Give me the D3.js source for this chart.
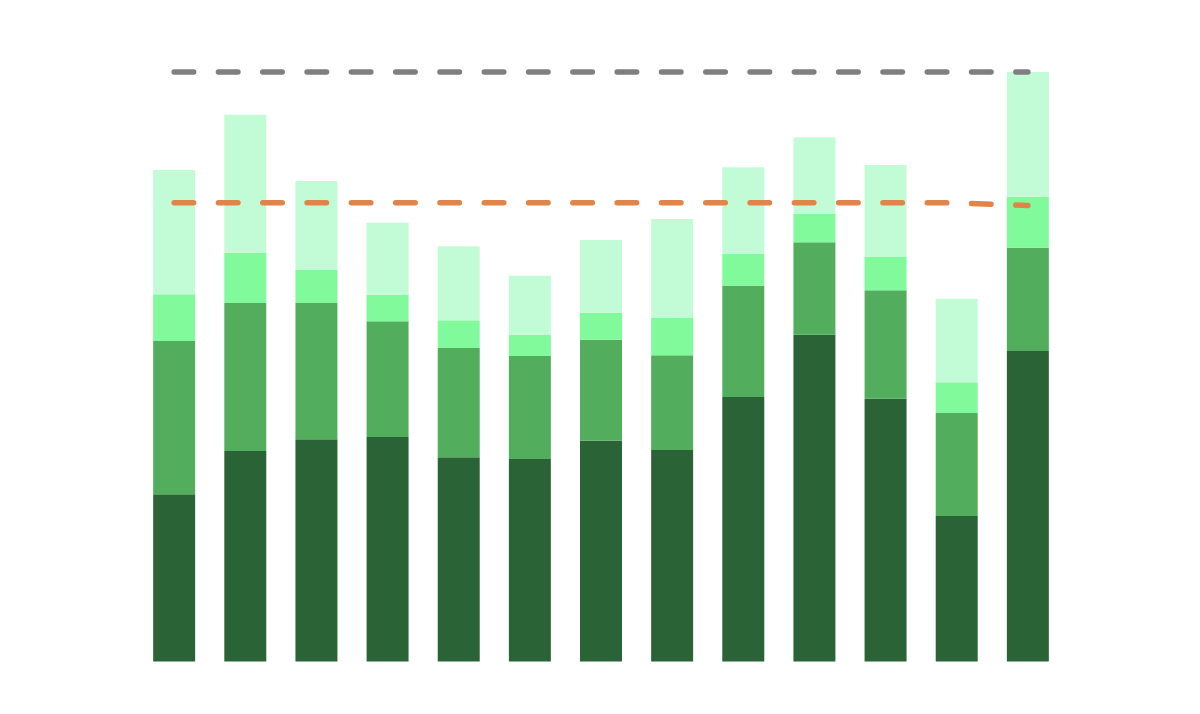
<!DOCTYPE html>
<html>
<head>
<meta charset="utf-8">
<script src="https://cdn.jsdelivr.net/npm/d3@7"></script>
<style>
  html, body { margin: 0; padding: 0; background: #fff; }
  svg { display: block; }
</style>
</head>
<body>
<svg id="chart" width="1200" height="714"></svg>
<script>
const categories = ["1","2","3","4","5","6","7","8","9","10","11","12","13"];
const seriesNames = ["s1","s2","s3","s4"];
const s1 = [167.2, 210.5, 222.2, 224.5, 204.2, 202.5, 220.8, 211.5, 264.5, 326.8, 262.8, 145.5, 310.5];
const s2 = [153.3, 148.0, 136.3, 115.7, 109.3, 103.0, 101.0, 94.7, 111.3, 92.4, 108.4, 103.0, 103.3];
const s3 = [46.7, 50.3, 33.0, 26.6, 27.7, 21.3, 27.0, 37.3, 31.7, 28.6, 33.3, 30.7, 51.0];
const s4 = [124.3, 138.0, 89.0, 72.0, 74.0, 59.0, 72.7, 99.0, 86.7, 76.4, 92.0, 83.6, 124.7];
const greyLine = [589.5, 589.5, 589.5, 589.5, 589.5, 589.5, 589.5, 589.5, 589.5, 589.5, 589.5, 589.5, 589.5];
const orangeLine = [458.8, 458.8, 458.8, 458.8, 458.8, 458.8, 458.8, 458.8, 458.8, 458.8, 458.8, 458.6, 456.0];

const colors = ["#296336", "#52ae5c", "#80fa9a", "#c2fcd6"];

const svg = d3.select("#chart");
const x = d3.scaleBand().domain(categories).range([124, 1078]).paddingInner(0.41).paddingOuter(0.41);
const y = d3.scaleLinear().domain([0, 600]).range([661.5, 61.5]);

const rows = categories.map((c, i) => ({cat: c, s1: s1[i], s2: s2[i], s3: s3[i], s4: s4[i]}));
const stacked = d3.stack().keys(seriesNames)(rows);

svg.append("g").selectAll("g")
  .data(stacked).join("g")
  .attr("fill", (d, i) => colors[i])
  .selectAll("rect")
  .data(d => d).join("rect")
  .attr("x", d => x(d.data.cat))
  .attr("width", x.bandwidth())
  .attr("y", d => y(d[1]))
  .attr("height", d => y(d[0]) - y(d[1]));

const line = d3.line()
  .x((d, i) => x(categories[i]) + x.bandwidth() / 2)
  .y(d => y(d));

svg.append("path")
  .datum(greyLine)
  .attr("d", line)
  .attr("fill", "none")
  .attr("stroke", "#7f7f7f")
  .attr("stroke-width", 5.5)
  .attr("stroke-linecap", "round")
  .attr("stroke-dasharray", "19.5,24.8");

svg.append("path")
  .datum(orangeLine)
  .attr("d", line)
  .attr("fill", "none")
  .attr("stroke", "#e0844a")
  .attr("stroke-width", 5.5)
  .attr("stroke-linecap", "round")
  .attr("stroke-dasharray", "19.5,24.8");
</script>
</body>
</html>
